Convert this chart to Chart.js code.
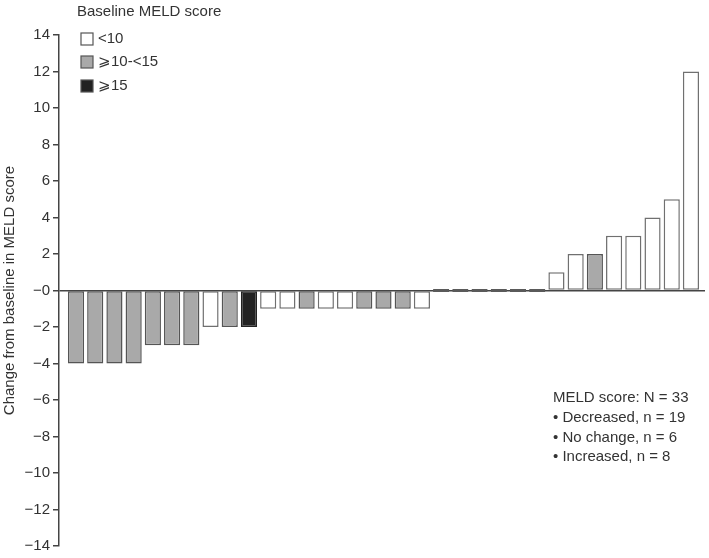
<!DOCTYPE html>
<html>
<head>
<meta charset="utf-8">
<script src="https://cdn.jsdelivr.net/npm/chart.js@4/dist/chart.umd.min.js"></script>
<style>
  body { margin: 0; background: #fff; }
  #wrap { position: relative; width: 709px; height: 558px; }
</style>
</head>
<body>
<div id="wrap"><canvas id="myChart"></canvas></div>
<script>
// change from baseline in MELD score, one bar per patient (sorted)
const changes = [-4, -4, -4, -4, -3, -3, -3, -2, -2, -2, -1, -1, -1, -1, -1, -1, -1, -1, -1,
                 0, 0, 0, 0, 0, 0,
                 1, 2, 2, 3, 3, 4, 5, 12];
// baseline MELD group per bar: 'low' <10, 'mid' >=10-<15, 'high' >=15, 'none' = no change
const groups = ['mid', 'mid', 'mid', 'mid', 'mid', 'mid', 'mid', 'low', 'mid', 'high',
                'low', 'low', 'mid', 'low', 'low', 'mid', 'mid', 'mid', 'low',
                'none', 'none', 'none', 'none', 'none', 'none',
                'low', 'low', 'mid', 'low', 'low', 'low', 'low', 'low'];
const yTicks = [14, 12, 10, 8, 6, 4, 2, 0, -2, -4, -6, -8, -10, -12, -14];
const legendLabels = ['<10', '\u2A7E10-<15', '\u2A7E15'];
const noteLines = ['MELD score: N = 33', '\u2022 Decreased, n = 19', '\u2022 No change, n = 6', '\u2022 Increased, n = 8'];

const fillFor = { low: '#ffffff', mid: '#a9a9a9', high: '#222222', none: '#5a5a5a' };
const edgeFor = { low: '#707070', mid: '#555555', high: '#222222', none: '#5a5a5a' };
const legendFill = ['#ffffff', '#a9a9a9', '#222222'];

const textColor = '#333';
const font = 'Liberation Sans, Arial, sans-serif';

// legend + summary text drawn on the canvas
const extras = {
    id: 'extras',
    afterDraw(chart) {
        const ctx = chart.ctx;
        ctx.save();
        ctx.fillStyle = textColor;
        ctx.font = '15px ' + font;
        ctx.textBaseline = 'middle';
        ctx.textAlign = 'left';
        ctx.fillText('Baseline MELD score', 77, 12);
        const rows = [39, 62, 86];
        for (let i = 0; i < legendLabels.length; i++) {
            ctx.fillStyle = legendFill[i];
            ctx.fillRect(81, rows[i] - 6, 12, 12);
            ctx.strokeStyle = '#555';
            ctx.lineWidth = 1.2;
            ctx.strokeRect(81, rows[i] - 6, 12, 12);
            ctx.fillStyle = textColor;
            ctx.fillText(legendLabels[i], 98, rows[i]);
        }
        const noteRows = [398, 418, 438, 457];
        for (let i = 0; i < noteLines.length; i++) {
            ctx.fillText(noteLines[i], 553, noteRows[i]);
        }
        ctx.restore();
    }
};

const ctx = document.getElementById('myChart').getContext('2d');
const chart = new Chart(ctx, {
    type: 'bar',
    data: {
        datasets: [{
            data: changes.map((v, i) => ({ x: i + 1, y: v })),
            backgroundColor: groups.map(g => fillFor[g]),
            borderColor: groups.map(g => edgeFor[g]),
            borderWidth: 1.5,
            borderSkipped: false,
            minBarLength: 3,
            barPercentage: 0.84,
            categoryPercentage: 1
        }]
    },
    options: {
        responsive: true,
        maintainAspectRatio: false,
        animation: false,
        layout: { padding: { top: 35, bottom: 10, right: 4, left: 0 } },
        plugins: {
            legend: { display: false },
            tooltip: { enabled: false }
        },
        scales: {
            x: {
                type: 'linear',
                display: false,
                offset: false,
                grid: { offset: false },
                min: 0.115,
                max: 33.73
            },
            y: {
                min: -14,
                max: 14,
                afterFit: s => { s.width = 59; },
                afterBuildTicks: s => { s.ticks = yTicks.map(v => ({ value: v })); },
                border: { display: true, color: '#444', width: 1.5 },
                grid: {
                    color: c => (c.tick && c.tick.value === 0) ? '#444' : 'rgba(0,0,0,0)',
                    lineWidth: 1.5,
                    tickColor: '#444',
                    tickLength: 6,
                    drawTicks: true
                },
                ticks: {
                    color: textColor,
                    padding: 3,
                    font: { family: font, size: 15 },
                    callback: v => v === 0 ? '\u22120' : (v < 0 ? '\u2212' + Math.abs(v) : String(v))
                },
                title: {
                    display: true,
                    text: 'Change from baseline in MELD score',
                    color: textColor,
                    font: { family: font, size: 15 },
                    padding: { top: 1, bottom: 0 }
                }
            }
        }
    },
    plugins: [extras]
});
</script>
</body>
</html>
